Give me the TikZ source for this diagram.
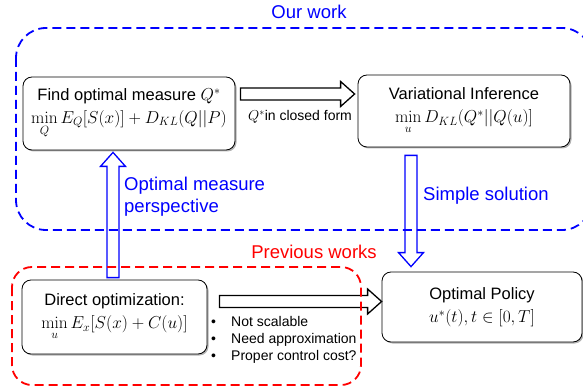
\documentclass[tikz,border=0pt]{standalone}
\usepackage[no-math]{fontspec}
\setmainfont{Liberation Sans}
\usepackage{amsmath}
\usetikzlibrary{calc,shadows}

\tikzset{
    box/.style={draw, rounded corners=9pt, fill=white, line width=0.8pt, align=center,
        inner sep=0pt, font=\fontsize{16.5}{23}\selectfont,
        drop shadow={shadow xshift=1.5pt, shadow yshift=-1.5pt, fill=black!50, opacity=0.6}},
    tag/.style={inner sep=0pt, align=left, font=\fontsize{18.5}{22}\selectfont},
    note/.style={inner sep=0pt, align=left, font=\fontsize{14}{17}\selectfont},
    frame/.style={line width=1.8pt, dash pattern=on 9pt off 5pt, rounded corners=#1},
}

% hollow block arrow: colour, start, tip
\newcommand{\fatarrow}[3]{%
    \coordinate (fa-s) at (#2);
    \coordinate (fa-e) at (#3);
    \coordinate (fa-m) at ($(fa-e)!14pt!(fa-s)$);
    \draw[#1, fill=white, line width=1.3pt, line join=miter]
        ($(fa-s)!6pt!90:(fa-e)$) -- ($(fa-m)!6pt!90:(fa-e)$) -- ($(fa-m)!12.5pt!90:(fa-e)$)
        -- (fa-e) -- ($(fa-m)!12.5pt!-90:(fa-e)$) -- ($(fa-m)!6pt!-90:(fa-e)$)
        -- ($(fa-s)!6pt!-90:(fa-e)$) -- cycle;
}

\begin{document}
\begin{tikzpicture}[x=1pt, y=-1pt]
    \useasboundingbox (0,0) rectangle (583,387);
    %------------Boxes----------
    \node[box, minimum width=212pt, minimum height=73pt] (find) at (129,113.5)
        {Find optimal measure $Q^*$\\ $\min\limits_Q E_Q[S(x)] + D_{KL}(Q||P)$};
    \node[box, minimum width=212pt, minimum height=72pt] (vi) at (464,111)
        {Variational Inference\\ $\min\limits_u D_{KL}(Q^*||Q(u)]$};
    \node[box, minimum width=185pt, minimum height=74pt] (direct) at (114.5,317)
        {Direct optimization:\\ $\min\limits_u E_x[S(x) + C(u)]$};
    \node[box, minimum width=200pt, minimum height=70pt] (policy) at (482,307)
        {Optimal Policy\\ $u^*(t), t\in[0,T]$};
    %------------Arrows----------
    \fatarrow{black}{[xshift=5pt,yshift=19.5pt]find.east}{[xshift=-3pt,yshift=17pt]vi.west}
    \fatarrow{blue}{[xshift=-1.5pt,yshift=2pt]direct.north}{[xshift=-16pt,yshift=-2pt]find.south}
    \fatarrow{blue}{[xshift=-53pt,yshift=-8pt]vi.south}{[xshift=-71pt,yshift=5pt]policy.north}
    \fatarrow{black}{[xshift=12pt,yshift=15.5pt]direct.east}{[yshift=5.5pt]policy.west}
    %------------Labels----------
    \node[note] (closedform) at (300,117) {$Q^*$in closed form};
    \node[tag, blue, anchor=west] (perspective) at (124,197) {Optimal measure\\perspective};
    \node[tag, blue, anchor=west] (simple) at (423,196) {Simple solution};
    \node[note, anchor=west] (issues) at (211,340)
        {\makebox[20pt][l]{\textbullet}Not scalable\\
         \makebox[20pt][l]{\textbullet}Need approximation\\
         \makebox[20pt][l]{\textbullet}Proper control cost?};
    %------------Frames----------
    \draw[frame=30pt, blue] (16,28) rectangle (592,230);
    \draw[frame=20pt, red] (12,267) rectangle (361,385);
    \node[tag, blue] (ourwork) at (309,12) {Our work};
    \node[tag, red] (prevwork) at (314,252) {Previous works};
\end{tikzpicture}
\end{document}
